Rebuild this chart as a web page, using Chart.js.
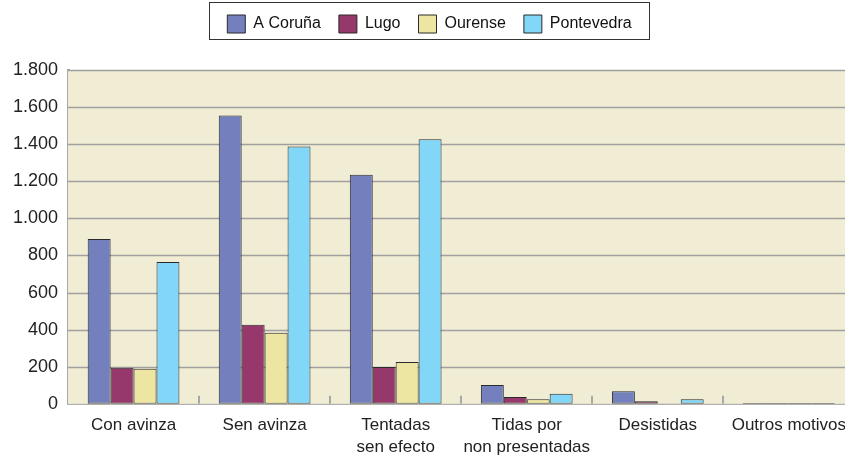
<!DOCTYPE html>
<html>
<head>
<meta charset="utf-8">
<script src="https://cdn.jsdelivr.net/npm/chart.js@4.4.1/dist/chart.umd.min.js"></script>
<style>
  html, body { margin: 0; padding: 0; background: #fff; overflow: hidden; }
  #wrap { width: 856px; height: 459px; }
</style>
</head>
<body>
<div id="wrap"><canvas id="chart"></canvas></div>
<script>
'use strict'

const categories = ['Con avinza', 'Sen avinza', ['Tentadas', 'sen efecto'], ['Tidas por', 'non presentadas'], 'Desistidas', 'Outros motivos'];
const coruna = [889, 1555, 1235, 102, 68, 4];
const lugo = [194, 426, 199, 36, 14, 4];
const ourense = [189, 383, 226, 25, 2, 4];
const pontevedra = [765, 1388, 1426, 54, 25, 4];

const fmt = v => String(v).replace(/\B(?=(\d{3})+(?!\d))/g, '.');

// cream plot background, category separators and a box round the legend
const decor = {
    id: 'decor',
    beforeInit(chart) {
        const fit = chart.legend.fit;
        chart.legend.fit = function () {
            fit.bind(chart.legend)();
            this.height = 73;
        };
    },
    beforeDatasetsDraw(chart) {
        const ctx = chart.ctx, a = chart.chartArea;
        ctx.save();
        ctx.fillStyle = '#f1edd5';
        ctx.fillRect(a.left, a.top, a.right - a.left, a.bottom - a.top);
        const y = chart.scales.y;
        ctx.strokeStyle = '#a0a0a0';
        ctx.lineWidth = 1.5;
        y.ticks.forEach((t, i) => {
            if (t.value === 0) return;
            const py = Math.round(y.getPixelForTick(i)) + 0.5;
            ctx.beginPath(); ctx.moveTo(a.left, py); ctx.lineTo(a.right, py); ctx.stroke();
        });
        const x = chart.scales.x;
        ctx.strokeStyle = '#a8a8a8';
        ctx.lineWidth = 2;
        for (let i = 0; i < categories.length - 1; i++) {
            const px = Math.round((x.getPixelForTick(i) + x.getPixelForTick(i + 1)) / 2);
            ctx.beginPath(); ctx.moveTo(px, a.bottom); ctx.lineTo(px, a.bottom - 8); ctx.stroke();
        }
        ctx.restore();
    },
    afterDraw(chart) {
        const boxes = chart.legend.legendHitBoxes;
        if (!boxes || !boxes.length) return;
        const l = Math.min(...boxes.map(b => b.left)) - 18;
        const r = Math.max(...boxes.map(b => b.left + b.width)) + 18;
        const ctx = chart.ctx;
        ctx.save();
        ctx.strokeStyle = '#333';
        ctx.lineWidth = 1;
        ctx.strokeRect(Math.round(l) + 0.5, 2.5, Math.round(r - l), 37);
        ctx.restore();
    }
};

new Chart(document.getElementById('chart').getContext('2d'), {
    type: 'bar',
    data: {
        labels: categories,
        datasets: [
            { label: 'A Coruña', data: coruna, backgroundColor: '#7480be' },
            { label: 'Lugo', data: lugo, backgroundColor: '#96386c' },
            { label: 'Ourense', data: ourense, backgroundColor: '#ece6a2' },
            { label: 'Pontevedra', data: pontevedra, backgroundColor: '#82d6f8' }
        ].map(d => Object.assign(d, { borderColor: '#2a2a2a', borderWidth: 1, borderSkipped: false }))
    },
    options: {
        responsive: true,
        maintainAspectRatio: false,
        animation: false,
        layout: { padding: { left: 3, right: 0, top: -3, bottom: -9 } },
        datasets: { bar: { categoryPercentage: 0.70, barPercentage: 1 } },
        plugins: {
            legend: {
                position: 'top',
                labels: {
                    font: { family: 'Liberation Sans', size: 16 },
                    color: '#111',
                    boxWidth: 18,
                    boxHeight: 18,
                    padding: 18
                }
            },
            tooltip: { enabled: false }
        },
        scales: {
            x: {
                grid: { display: false, drawTicks: false },
                border: { color: '#b0b0b0', width: 2 },
                ticks: { font: { family: 'Liberation Sans', size: 17, lineHeight: 1.3 }, color: '#222', padding: 10, maxRotation: 0, autoSkip: false }
            },
            y: {
                min: 0,
                max: 1800,
                grid: { display: false, drawTicks: false },
                border: { color: '#a8a8a8', width: 3 },
                ticks: { stepSize: 200, font: { family: 'Liberation Sans', size: 18 }, color: '#222', padding: 10, callback: v => fmt(v) }
            }
        }
    },
    plugins: [decor]
});
</script>
</body>
</html>
